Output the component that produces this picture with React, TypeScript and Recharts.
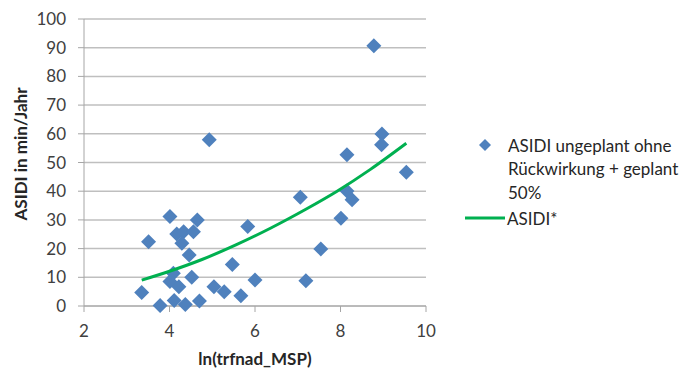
import React from "react";
import {
  ScatterChart,
  Scatter,
  XAxis,
  YAxis,
  CartesianGrid,
  Label,
} from "recharts";

// ln(trfnad_MSP) vs ASIDI (min/Jahr)
const pointsX = [
  8.78, 4.93, 8.97, 8.96, 9.54, 8.15, 8.15, 8.27, 7.06, 8.01, 7.54, 7.19,
  5.83, 5.47, 6.0, 5.67, 5.28, 5.04, 4.01, 3.51, 4.17, 4.33, 4.56, 4.65,
  4.29, 4.46, 4.52, 4.09, 4.01, 4.22, 3.35, 3.78, 4.11, 4.37, 4.7,
];
const pointsY = [
  90.7, 57.9, 59.9, 56.2, 46.6, 52.7, 40.1, 37.0, 37.9, 30.6, 19.9, 8.8,
  27.7, 14.5, 9.1, 3.6, 5.0, 6.7, 31.2, 22.4, 25.1, 25.9, 25.9, 30.0,
  21.9, 17.8, 10.0, 11.4, 8.5, 6.7, 4.7, 0.2, 1.9, 0.5, 1.7,
];

// trend curve ASIDI*
const trendX = [3.35, 4.0, 4.76, 5.54, 6.36, 7.2, 7.92, 8.7, 9.54];
const trendY = [9.0, 12.1, 16.2, 21.2, 27.1, 33.8, 40.0, 47.6, 56.7];

const xTicks = [2, 4, 6, 8, 10];
const yTicks = [0, 10, 20, 30, 40, 50, 60, 70, 80, 90, 100];

const seriesName = ["ASIDI ungeplant ohne", "Rückwirkung + geplant", "50%"];
const trendName = "ASIDI*";

const scatterData = pointsX.map((x, i) => ({ x, y: pointsY[i] }));
const trendData = trendX.map((x, i) => ({ x, y: trendY[i] }));

const BLUE = "#4f81bd";
const GREEN = "#00b050";
const FONT = "Lato, 'Open Sans', sans-serif";

const Diamond = (props: any) => {
  const { cx, cy } = props;
  const r = 7.5;
  return (
    <polygon
      points={`${cx},${cy - r} ${cx + r},${cy} ${cx},${cy + r} ${cx - r},${cy}`}
      fill={BLUE}
    />
  );
};

const NoShape = () => <g />;

export default function App() {
  return (
    <div style={{ position: "absolute", left: 0, top: 0, width: 690, height: 372, background: "#fff", fontFamily: FONT }}>
      <ScatterChart width={690} height={372} margin={{ top: 19, right: 264, bottom: 0, left: 0 }}>
        <CartesianGrid vertical={false} stroke="#bfbfbf" strokeWidth={1.5} />
        <XAxis
          type="number"
          dataKey="x"
          domain={[2, 10]}
          ticks={xTicks}
          height={66}
          stroke="#a6a6a6"
          tickSize={6}
          tickMargin={13}
          tick={{ fill: "#404040", fontSize: 17, fontFamily: FONT }}
        >
          <Label
            value="ln(trfnad_MSP)"
            position="insideBottom"
            offset={7}
            fill="#262626"
            fontSize={17}
            fontWeight="bold"
            fontFamily={FONT}
          />
        </XAxis>
        <YAxis
          type="number"
          dataKey="y"
          domain={[0, 100]}
          ticks={yTicks}
          width={84}
          stroke="#a6a6a6"
          tickSize={6}
          tickMargin={12}
          tick={{ fill: "#404040", fontSize: 17, fontFamily: FONT }}
        >
          <Label
            content={() => (
              <text
                x={20}
                y={154}
                transform="rotate(-90, 20, 154)"
                textAnchor="middle"
                dominantBaseline="central"
                fill="#262626"
                fontSize={17}
                fontWeight="bold"
                fontFamily={FONT}
              >
                ASIDI in min/Jahr
              </text>
            )}
          />
        </YAxis>
        <Scatter data={scatterData} shape={Diamond} isAnimationActive={false} />
        <Scatter
          data={trendData}
          shape={NoShape}
          line={{ stroke: GREEN, strokeWidth: 3 }}
          lineType="joint"
          lineJointType="monotoneX"
          isAnimationActive={false}
        />
      </ScatterChart>
      <svg width={250} height={120} style={{ position: "absolute", left: 440, top: 120 }}>
        <polygon points="45,19 51,25 45,31 39,25" fill={BLUE} />
        {seriesName.map((t, i) => (
          <text key={t} x={68} y={25 + i * 23.5} dominantBaseline="central" fontSize={17} fill="#262626" fontFamily={FONT}>
            {t}
          </text>
        ))}
        <line x1={25} y1={98} x2={65} y2={98} stroke={GREEN} strokeWidth={3} />
        <text x={67} y={98} dominantBaseline="central" fontSize={17} fill="#262626" fontFamily={FONT}>
          {trendName}
        </text>
      </svg>
    </div>
  );
}
